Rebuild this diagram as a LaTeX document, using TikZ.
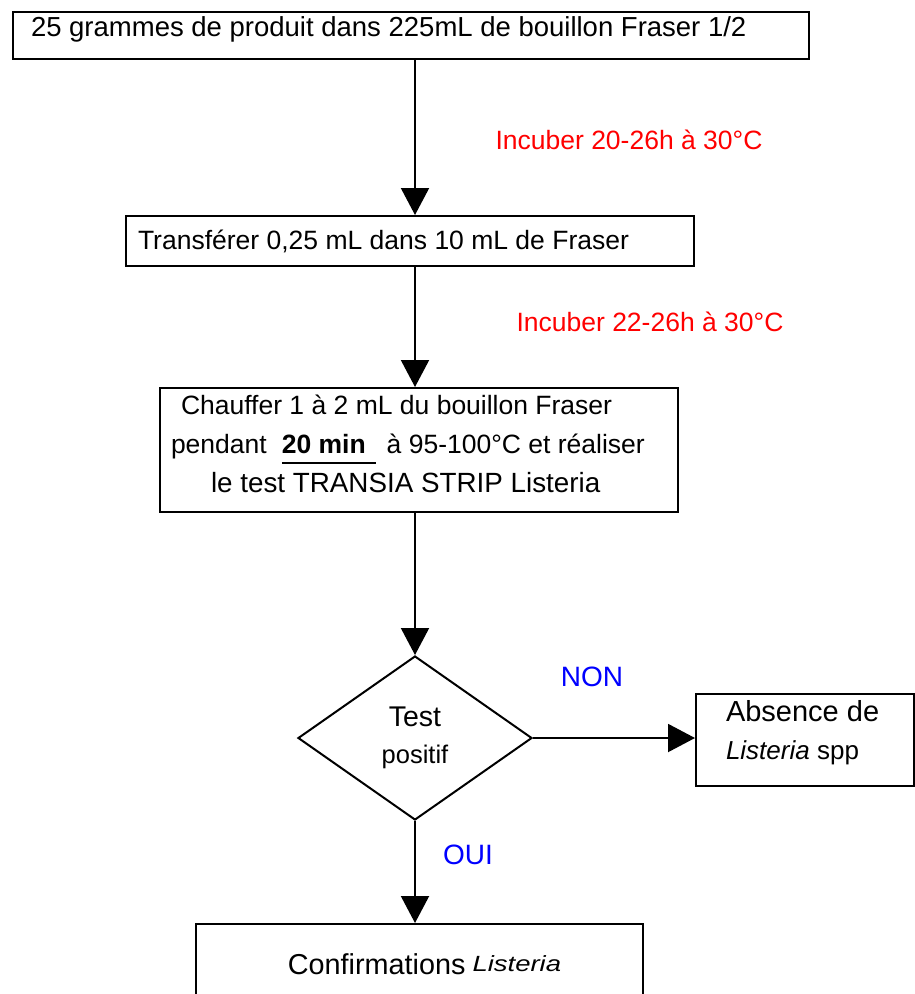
\documentclass[tikz,border=0pt]{standalone}
\usepackage{fontspec}
\setmainfont{Liberation Sans}
\usepackage{graphicx}
\usepackage{tikz}
\usetikzlibrary{shapes.geometric,arrows.meta,positioning}

\newcommand{\ulmark}[1]{\setbox0=\hbox{#1}\rlap{\rule[-10pt]{\wd0}{2pt}}\box0}

\begin{document}
\begin{tikzpicture}[x=1pt, y=-1pt,
        block/.style={rectangle, draw=black, line width=2pt, inner ysep=0pt, font=\fontsize{26.5}{39}\selectfont},
        decision/.style={diamond, draw=black, line width=2pt, inner sep=0pt, aspect=1.43, minimum width=234pt, minimum height=164pt, align=center, font=\fontsize{28.5}{37}\selectfont},
        note/.style={inner sep=0pt, font=\fontsize{26.5}{32}\selectfont},
        arrow/.style={-{Triangle[length=27pt, width=28pt]}, line width=2pt}]
    \useasboundingbox (0,0) rectangle (915,994);

    % Steps
    \node[block, anchor=north west, text width=760pt, align=flush left, inner xsep=18pt, text height=24pt, text depth=23pt, font=\fontsize{27.5}{33}\selectfont] (b1) at (12,11) {25 grammes de produit dans 225mL de bouillon Fraser 1/2};
    \node[block, anchor=north west, text width=544pt, align=flush left, inner xsep=12pt, minimum height=50pt] (b2) at (125,215) {Transférer 0,25 mL dans 10 mL de Fraser};
    \node[block, minimum width=518pt, minimum height=124pt, text width=496pt, inner xsep=11pt, align=flush left] (b3) at (419,450) {\hspace*{10pt}Chauffer 1 à 2 mL du bouillon Fraser\\ pendant\hspace{15pt}\ulmark{\textbf{20 min}\hspace{10pt}}\hspace{11pt}à 95-100°C et réaliser\\ \hspace*{40pt}{\fontsize{27.8}{39}\selectfont le test TRANSIA STRIP Listeria}\rule[-12pt]{0pt}{1pt}};
    \node[decision] (tst) at (415,738) {Test\\{\fontsize{25.5}{37}\selectfont positif}};
    \node[block, anchor=north west, text width=158pt, align=flush left, inner xsep=30pt, minimum height=92pt, font=\fontsize{29}{38}\selectfont] (abs) at (695,693) {Absence de\\{\fontsize{26}{38}\selectfont\textit{Listeria} spp\rule[-19.5pt]{0pt}{1pt}}};
    \node[block, anchor=north, minimum width=447pt, text height=50pt, text depth=30pt, font=\fontsize{28.8}{34}\selectfont] (conf) at (419.5,923) {\hspace*{10pt}Confirmations\hspace{7pt}\raisebox{3pt}{\scalebox{1.25}[1]{\fontsize{22}{26}\selectfont\itshape Listeria}}};

    % Labels
    \node[note, text=red] (inc1) at (629,140) {Incuber 20-26h à 30°C};
    \node[note, text=red] (inc2) at (650,322) {Incuber 22-26h à 30°C};
    \node[note, text=blue, font=\fontsize{28}{32}\selectfont] (non) at (592,677) {NON};
    \node[note, text=blue, font=\fontsize{28}{32}\selectfont] (oui) at (468,855) {OUI};

    % Connections
    \draw[arrow] (b1.south -| tst.north) -- (b2.north -| tst.north);
    \draw[arrow] (b2.south -| tst.north) -- (b3.north -| tst.north);
    \draw[arrow] (b3.south -| tst.north) -- (tst.north);
    \draw[arrow] (tst.east) -- (abs.west |- tst.east);
    \draw[arrow] (tst.south) -- (conf.north -| tst.south);
\end{tikzpicture}
\end{document}
